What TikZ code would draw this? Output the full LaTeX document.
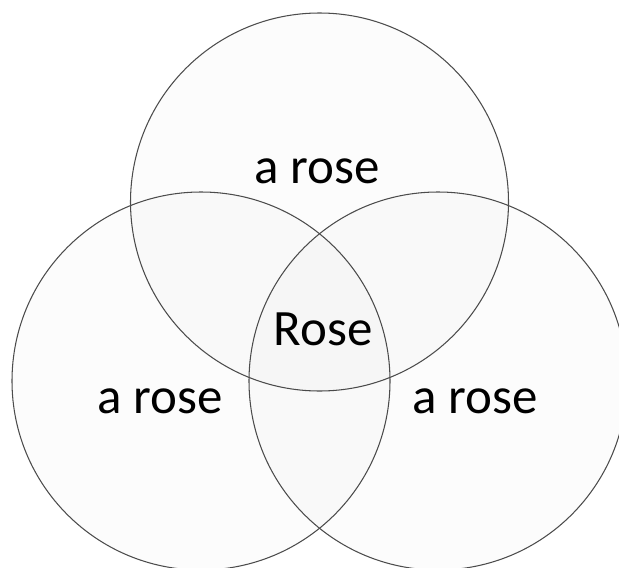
\documentclass[tikz,border=0pt]{standalone}
\usepackage{fontspec}
\setmainfont{Carlito}

\begin{document}
\begin{tikzpicture}[
    set/.style={draw=black!70, line width=0.6pt, fill=black, fill opacity=0.012},
    lbl/.style={anchor=base, inner sep=0pt, font=\fontsize{29}{35}\selectfont}
  ]
    \useasboundingbox (0,0) rectangle (12.38,-11.34);

    % Sets
    \draw[set] (6.39,-4.04) circle (3.78);
    \draw[set] (4.02,-7.62) circle (3.78);
    \draw[set] (8.76,-7.62) circle (3.78);

    % Labels
    \node[lbl] (top) at (6.35,-3.66) {a rose};
    \node[lbl] (left) at (3.20,-8.26) {a rose};
    \node[lbl] (right) at (9.50,-8.26) {a rose};
    \node[lbl] (mid) at (6.46,-6.90) {Rose};
\end{tikzpicture}
\end{document}
